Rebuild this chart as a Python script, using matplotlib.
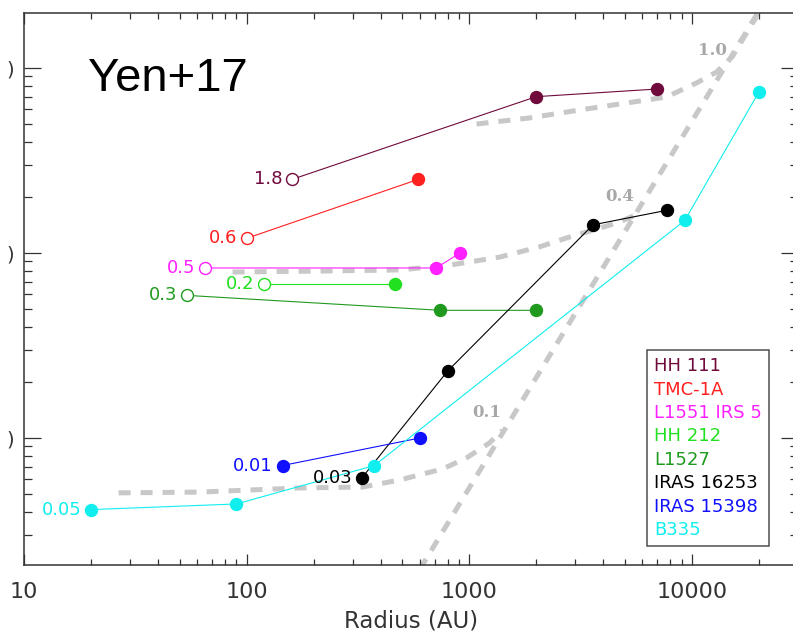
import matplotlib
matplotlib.use('Agg')
import matplotlib.pyplot as plt
from matplotlib.lines import Line2D
from matplotlib.ticker import NullFormatter

# Sources: radius (AU), specific angular momentum (km/s pc), protostellar mass label
names = ["HH 111", "TMC-1A", "L1551 IRS 5", "HH 212", "L1527",
         "IRAS 16253", "IRAS 15398", "B335"]
colors = ["#700a3c", "#ff2020", "#ff20ff", "#20e020", "#1f9a1f",
          "#000000", "#1010ff", "#10eeee"]
masses = ["1.8", "0.6", "0.5", "0.2", "0.3", "0.03", "0.01", "0.05"]
open_first = [True, True, True, True, True, False, False, False]

radius = [
    [160, 2000, 7000],
    [100, 590],
    [65, 710, 910],
    [120, 465],
    [54, 740, 2000],
    [330, 800, 3600, 7700],
    [145, 600],
    [20, 90, 375, 9300, 20000],
]
jspec = [
    [2.5e-3, 7.0e-3, 7.7e-3],
    [1.2e-3, 2.5e-3],
    [8.3e-4, 8.3e-4, 1.0e-3],
    [6.8e-4, 6.8e-4],
    [5.9e-4, 4.9e-4, 4.9e-4],
    [6.1e-5, 2.3e-4, 1.42e-3, 1.7e-3],
    [7.1e-5, 1.0e-4],
    [4.1e-5, 4.4e-5, 7.1e-5, 1.5e-3, 7.4e-3],
]

# gray model curves
steep_r = [600, 20000]
steep_j = [1.95e-5, 2.03e-2]
model_labels = ["0.1", "0.4", "1.0"]
model_r = [
    [26.6, 61.5, 173, 332, 487, 759, 972, 1233, 1411],
    [86.5, 236, 487, 816, 1370, 2070, 2820, 3845, 4730, 5820],
    [1079, 1866, 3130, 5085, 7690, 10490, 12900, 15200, 19500],
]
model_j = [
    [5.05e-5, 5.1e-5, 5.37e-5, 5.43e-5, 5.93e-5, 6.8e-5, 7.8e-5, 9.4e-5, 1.1e-4],
    [7.89e-4, 8.0e-4, 8.1e-4, 8.6e-4, 9.5e-4, 1.08e-3, 1.22e-3, 1.36e-3, 1.47e-3, 1.64e-3],
    [4.98e-3, 5.37e-3, 5.93e-3, 6.47e-3, 6.97e-3, 8.3e-3, 9.5e-3, 1.15e-2, 1.89e-2],
]
model_label_pos = [(1195, 1.38e-4), (4730, 2.03e-3), (12380, 1.25e-2)]

GRAY = "#c8c8c8"
AXC = "#333333"

fig = plt.figure(figsize=(7.93, 6.37), dpi=100)
ax = fig.add_axes([24 / 793, 72 / 637, 774 / 793, 552 / 637])
ax.set_xscale("log")
ax.set_yscale("log")
ax.set_xlim(10, 30000)
ax.set_ylim(2.058e-5, 1.983e-2)

dash_kw = dict(color=GRAY, lw=3.6, dashes=(2.4, 2.0), dash_capstyle="butt", zorder=1)
ax.plot(steep_r, steep_j, **dash_kw)
for r, j in zip(model_r, model_j):
    ax.plot(r, j, **dash_kw)
for lab, (px, py) in zip(model_labels, model_label_pos):
    ax.text(px, py, lab, color="#a8a8a8", fontsize=12, fontweight="bold",
            family="DejaVu Serif", ha="center", va="center", zorder=2)

for r, j, c, m, op in zip(radius, jspec, colors, masses, open_first):
    ax.plot(r, j, color=c, lw=0.8, zorder=3)
    if op:
        ax.plot(r[:1], j[:1], "o", ms=8.6, mfc="white", mec=c, mew=1.0, zorder=4)
        ax.plot(r[1:], j[1:], "o", ms=8.6, color=c, zorder=4)
    else:
        ax.plot(r, j, "o", ms=8.6, color=c, zorder=4)
    ax.annotate(m, (r[0], j[0]), xytext=(-7, 0), textcoords="offset points",
                ha="right", va="center", color=c, fontsize=13, zorder=5)

ax.text(0.083, 0.859, "Yen+17", transform=ax.transAxes, fontsize=34,
        family="Liberation Sans", va="baseline", ha="left")

# legend with coloured text only
handles = [Line2D([], [], color=c, lw=0) for c in colors]
leg = ax.legend(handles, names, loc="upper left", bbox_to_anchor=(0.805, 0.3895),
                handlelength=0, handletextpad=0, labelcolor=colors, fontsize=13,
                frameon=True, fancybox=False, borderpad=0.4, labelspacing=0.3,
                borderaxespad=0)
leg.get_frame().set_edgecolor("#222222")
leg.get_frame().set_linewidth(1.1)

ax.set_xticks([10, 100, 1000, 10000])
ax.set_xticklabels(["10", "100", "1000", "10000"])
ax.xaxis.set_minor_formatter(NullFormatter())
# the y tick labels of the source are cropped: only the closing bracket remains
ax.set_yticks([1e-4, 1e-3, 1e-2])
ax.set_yticklabels([")", ")", ")"])
ax.yaxis.set_minor_formatter(NullFormatter())

ax.tick_params(axis="x", which="major", direction="in", length=8, width=0.9,
               top=True, labelsize=16, pad=12, colors=AXC)
ax.tick_params(axis="x", which="minor", direction="in", length=4, width=0.9,
               top=True, colors=AXC)
ax.tick_params(axis="y", which="major", direction="in", length=12, width=0.9,
               right=True, labelsize=14, pad=7, colors=AXC)
ax.tick_params(axis="y", which="minor", direction="in", length=6, width=0.9,
               right=True, colors=AXC)
for s in ax.spines.values():
    s.set_color(AXC)
    s.set_linewidth(1.1)

ax.set_xlabel("Radius (AU)", fontsize=16.5, color=AXC, labelpad=6)

fig.savefig("out.png", dpi=100)
